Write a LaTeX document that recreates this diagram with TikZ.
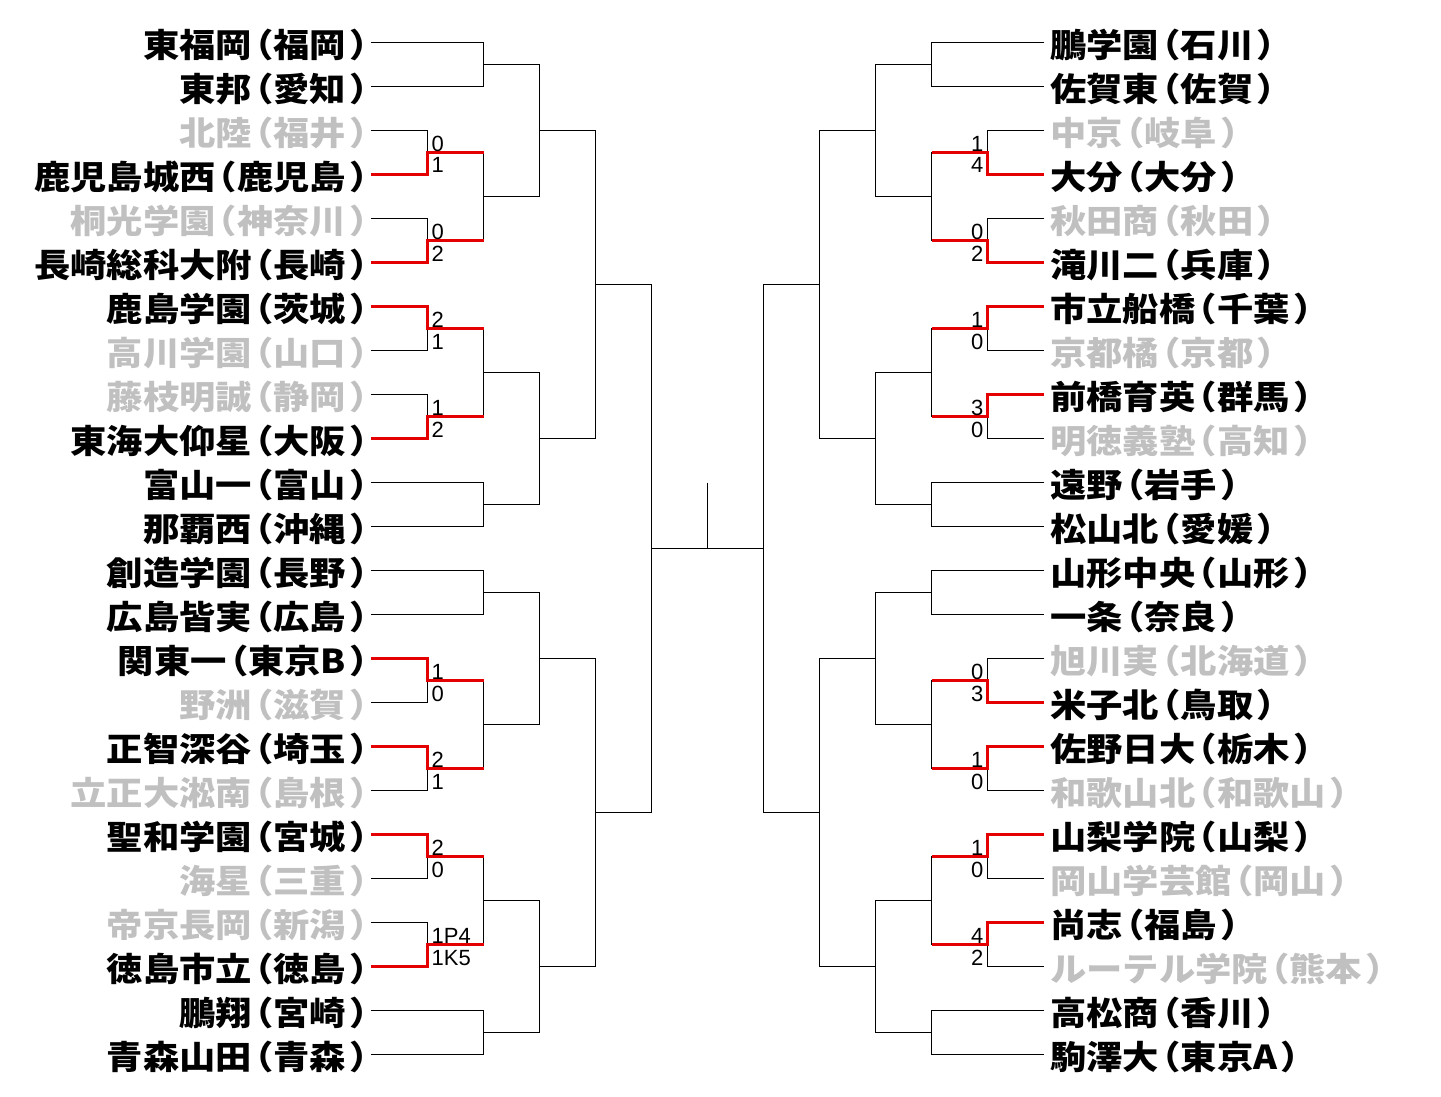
\documentclass[tikz,border=0pt]{standalone}
\usepackage{fontspec}
\setmainfont{Noto Sans CJK JP}[FakeStretch=1.1, RawFeature=+halt]
\newfontfamily\scorefont{Liberation Sans}
% a little more room round the brackets
\XeTeXinterchartokenstate=1
\newXeTeXintercharclass\lparclass
\newXeTeXintercharclass\rparclass
\XeTeXcharclass"FF08=\lparclass
\XeTeXcharclass"FF09=\rparclass
\XeTeXinterchartoks 0 \lparclass={\kern3.5pt}
\XeTeXinterchartoks 1 \lparclass={\kern3.5pt}
\XeTeXinterchartoks 0 \rparclass={\kern3.5pt}
\XeTeXinterchartoks 1 \rparclass={\kern3.5pt}
\definecolor{fade}{RGB}{192,192,192}
\definecolor{winred}{RGB}{228,0,0}
\tikzset{
  bline/.style={line width=1.2pt},
  won/.style={line width=2.6pt, draw=winred},
  lname/.style={anchor=base east, inner sep=0pt, font=\fontsize{33}{33}\selectfont\bfseries},
  rname/.style={anchor=base west, inner sep=0pt, font=\fontsize{33}{33}\selectfont\bfseries},
  score/.style={inner sep=0pt, font=\scorefont\fontsize{22}{22}\selectfont},
  sclt/.style={score, anchor=base west, xshift=4pt, yshift=1pt},
  sclb/.style={score, anchor=base west, xshift=4pt, yshift=-20.5pt},
  scrt/.style={score, anchor=base east, xshift=-4pt, yshift=1pt},
  scrb/.style={score, anchor=base east, xshift=-4pt, yshift=-20.5pt}
}
\begin{document}
\begin{tikzpicture}[x=1pt, y=-1pt]
  \useasboundingbox (0,0) rectangle (1441,1097);
  % teams, left side
  \foreach \t/\c [count=\i from 0] in {東福岡（福岡）/black, 東邦（愛知）/black,
      北陸（福井）/fade, 鹿児島城西（鹿児島）/black, 桐光学園（神奈川）/fade,
      長崎総科大附（長崎）/black, 鹿島学園（茨城）/black, 高川学園（山口）/fade,
      藤枝明誠（静岡）/fade, 東海大仰星（大阪）/black, 富山一（富山）/black,
      那覇西（沖縄）/black, 創造学園（長野）/black, 広島皆実（広島）/black,
      関東一（東京B）/black, 野洲（滋賀）/fade, 正智深谷（埼玉）/black,
      立正大淞南（島根）/fade, 聖和学園（宮城）/black, 海星（三重）/fade,
      帝京長岡（新潟）/fade, 徳島市立（徳島）/black, 鵬翔（宮崎）/black,
      青森山田（青森）/black} {
    \coordinate (L\i) at (371,{42.5+44*\i});
    \node[lname, text=\c] (tL\i) at ([shift={(-3,15)}]L\i) {\t};
  }
  % teams, right side
  \foreach \t/\c [count=\i from 0] in {鵬学園（石川）/black, 佐賀東（佐賀）/black,
      中京（岐阜）/fade, 大分（大分）/black, 秋田商（秋田）/fade,
      滝川二（兵庫）/black, 市立船橋（千葉）/black, 京都橘（京都）/fade,
      前橋育英（群馬）/black, 明徳義塾（高知）/fade, 遠野（岩手）/black,
      松山北（愛媛）/black, 山形中央（山形）/black, 一条（奈良）/black,
      旭川実（北海道）/fade, 米子北（鳥取）/black, 佐野日大（栃木）/black,
      和歌山北（和歌山）/fade, 山梨学院（山梨）/black, 岡山学芸館（岡山）/fade,
      尚志（福島）/black, ルーテル学院（熊本）/fade, 高松商（香川）/black,
      駒澤大（東京A）/black} {
    \coordinate (R\i) at (1044,{42.5+44*\i});
    \node[rname, text=\c] (tR\i) at ([shift={(6,15)}]R\i) {\t};
  }
  % junctions
  \foreach \n/\y in {1/152.5, 2/240.5, 3/328.5, 4/416.5, 5/680.5, 6/768.5, 7/856.5, 8/944.5} {
    \coordinate (la\n) at (427.5,\y);
    \coordinate (ra\n) at (987.5,\y);
  }
  \foreach \n/\y in {1/64.5, 2/196.5, 3/372.5, 4/504.5, 5/592.5, 6/724.5, 7/900.5, 8/1032.5} {
    \coordinate (lb\n) at (483.5,\y);
    \coordinate (rb\n) at (931.5,\y);
  }
  \foreach \n/\y in {1/130.5, 2/438.5, 3/658.5, 4/966.5} {
    \coordinate (lc\n) at (539.5,\y);
    \coordinate (rc\n) at (875.5,\y);
  }
  \foreach \n/\y in {1/284.5, 2/812.5} {
    \coordinate (ld\n) at (595.5,\y);
    \coordinate (rd\n) at (819.5,\y);
  }
  \coordinate (le) at (651.5,548.5);
  \coordinate (re) at (763.5,548.5);
  \coordinate (top) at (707.5,482.5);
  % bracket
  \begin{scope}[bline]
    % left
    \draw (L2) -| (la1) |- (L3);
    \draw (L4) -| (la2) |- (L5);
    \draw (L6) -| (la3) |- (L7);
    \draw (L8) -| (la4) |- (L9);
    \draw (L14) -| (la5) |- (L15);
    \draw (L16) -| (la6) |- (L17);
    \draw (L18) -| (la7) |- (L19);
    \draw (L20) -| (la8) |- (L21);
    \draw (L0) -| (lb1) |- (L1);
    \draw (la1) -| (lb2) |- (la2);
    \draw (la3) -| (lb3) |- (la4);
    \draw (L10) -| (lb4) |- (L11);
    \draw (L12) -| (lb5) |- (L13);
    \draw (la5) -| (lb6) |- (la6);
    \draw (la7) -| (lb7) |- (la8);
    \draw (L22) -| (lb8) |- (L23);
    \draw (lb1) -| (lc1) |- (lb2);
    \draw (lb3) -| (lc2) |- (lb4);
    \draw (lb5) -| (lc3) |- (lb6);
    \draw (lb7) -| (lc4) |- (lb8);
    \draw (lc1) -| (ld1) |- (lc2);
    \draw (lc3) -| (ld2) |- (lc4);
    \draw (ld1) -| (le) |- (ld2);
    % right
    \draw (R2) -| (ra1) |- (R3);
    \draw (R4) -| (ra2) |- (R5);
    \draw (R6) -| (ra3) |- (R7);
    \draw (R8) -| (ra4) |- (R9);
    \draw (R14) -| (ra5) |- (R15);
    \draw (R16) -| (ra6) |- (R17);
    \draw (R18) -| (ra7) |- (R19);
    \draw (R20) -| (ra8) |- (R21);
    \draw (R0) -| (rb1) |- (R1);
    \draw (ra1) -| (rb2) |- (ra2);
    \draw (ra3) -| (rb3) |- (ra4);
    \draw (R10) -| (rb4) |- (R11);
    \draw (R12) -| (rb5) |- (R13);
    \draw (ra5) -| (rb6) |- (ra6);
    \draw (ra7) -| (rb7) |- (ra8);
    \draw (R22) -| (rb8) |- (R23);
    \draw (rb1) -| (rc1) |- (rb2);
    \draw (rb3) -| (rc2) |- (rb4);
    \draw (rb5) -| (rc3) |- (rb6);
    \draw (rb7) -| (rc4) |- (rb8);
    \draw (rc1) -| (rd1) |- (rc2);
    \draw (rc3) -| (rd2) |- (rc4);
    \draw (rd1) -| (re) |- (rd2);
    % final
    \draw (le) -- (re);
    \draw (top) -- (top |- le);
  \end{scope}
  % winners
  \draw[won] (L3) -| (la1) -- (la1 -| lb2);
  \draw[won] (L5) -| (la2) -- (la2 -| lb2);
  \draw[won] (L6) -| (la3) -- (la3 -| lb3);
  \draw[won] (L9) -| (la4) -- (la4 -| lb3);
  \draw[won] (L14) -| (la5) -- (la5 -| lb6);
  \draw[won] (L16) -| (la6) -- (la6 -| lb6);
  \draw[won] (L18) -| (la7) -- (la7 -| lb7);
  \draw[won] (L21) -| (la8) -- (la8 -| lb7);
  \draw[won] (R3) -| (ra1) -- (ra1 -| rb2);
  \draw[won] (R5) -| (ra2) -- (ra2 -| rb2);
  \draw[won] (R6) -| (ra3) -- (ra3 -| rb3);
  \draw[won] (R8) -| (ra4) -- (ra4 -| rb3);
  \draw[won] (R15) -| (ra5) -- (ra5 -| rb6);
  \draw[won] (R16) -| (ra6) -- (ra6 -| rb6);
  \draw[won] (R18) -| (ra7) -- (ra7 -| rb7);
  \draw[won] (R20) -| (ra8) -- (ra8 -| rb7);
  % scores
  \foreach \m/\p/\q in {la1/0/1, la2/0/2, la3/2/1, la4/1/2, la5/1/0, la6/2/1, la7/2/0, la8/1P4/1K5} {
    \node[sclt] (\m t) at (\m) {\p};
    \node[sclb] (\m b) at (\m) {\q};
  }
  \foreach \m/\p/\q in {ra1/1/4, ra2/0/2, ra3/1/0, ra4/3/0, ra5/0/3, ra6/1/0, ra7/1/0, ra8/4/2} {
    \node[scrt] (\m t) at (\m) {\p};
    \node[scrb] (\m b) at (\m) {\q};
  }
\end{tikzpicture}
\end{document}
